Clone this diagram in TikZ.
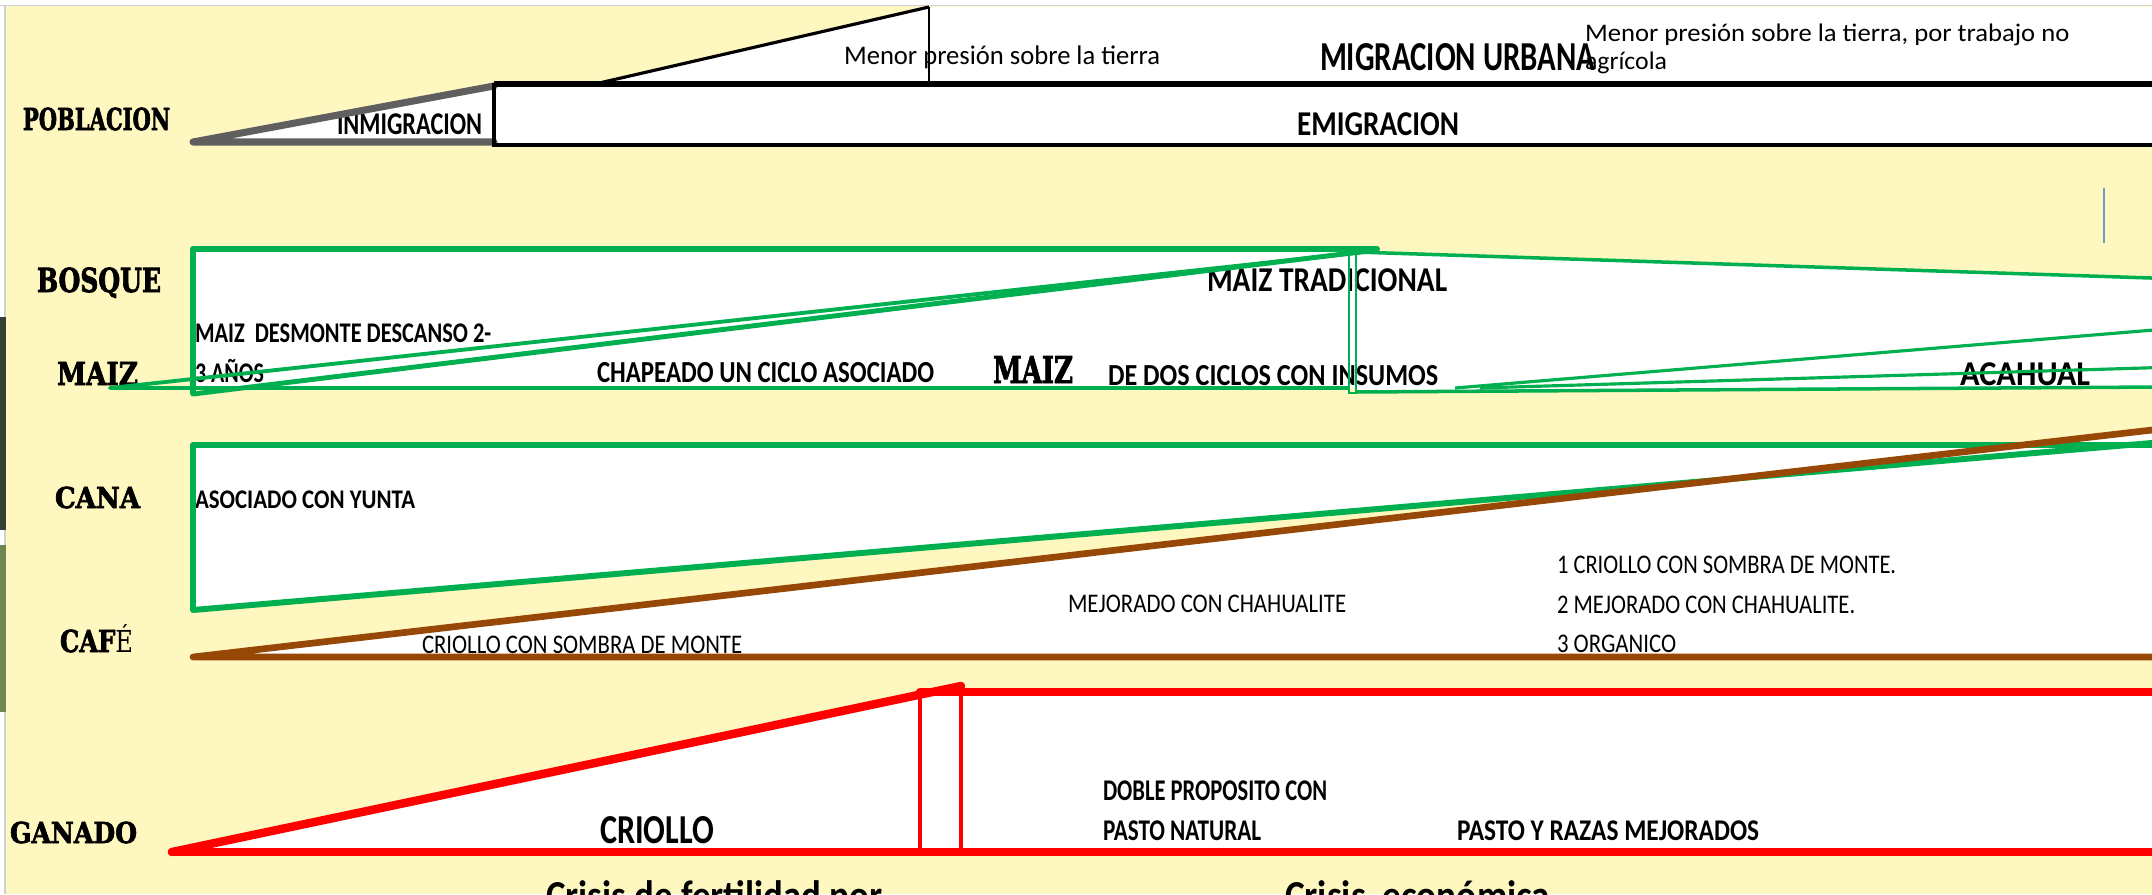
\documentclass[tikz,border=0pt]{standalone}
\usepackage{fontspec}
\usepackage{graphicx}
\setmainfont{Carlito}
\newfontfamily\labfont{DejaVu Serif}[BoldFeatures={FakeBold=2.5}]
\definecolor{bgyellow}{RGB}{255,247,192}
\definecolor{xgreen}{RGB}{0,176,80}
\definecolor{xbrown}{RGB}{151,72,6}
\definecolor{xred}{RGB}{255,0,0}
\definecolor{xgray}{RGB}{95,95,95}
\definecolor{framegray}{RGB}{205,208,214}
\definecolor{cursorblue}{RGB}{120,150,200}
\definecolor{photodark}{RGB}{52,64,52}
\definecolor{photogreen}{RGB}{110,135,80}
\newcommand{\fitw}[2]{\resizebox{#1}{\height}{#2}}
\begin{document}
\begin{tikzpicture}[x=0.01cm,y=-0.01cm,
  txt/.style={inner sep=0pt, outer sep=0pt, anchor=base west},
  ser/.style={txt, font=\labfont\bfseries\fontsize{#1}{#1}\selectfont},
  bsans/.style={txt, font=\bfseries\fontsize{#1}{#1}\selectfont},
  rsans/.style={txt, font=\fontsize{#1}{#1}\selectfont},
  gthick/.style={draw=xgreen, line width=1.7pt, line join=round, line cap=round},
  gmid/.style={draw=xgreen, line width=1.1pt, line cap=round},
  gthin/.style={draw=xgreen, line width=0.6pt},
  brownline/.style={draw=xbrown, line width=1.9pt, line cap=round, line join=round},
  redthick/.style={draw=xred, line width=2.4pt, line cap=round},
  redthin/.style={draw=xred, line width=1pt},
  blackline/.style={draw=black, line width=1.1pt}]
\useasboundingbox (0,0) rectangle (2152,894);
\clip (0,0) rectangle (2152,894);
% background
\fill[white] (0,0) rectangle (2152,894);
\fill[bgyellow] (5,6) rectangle (2152,894);
\draw[framegray, line width=0.5pt] (0,5.5) -- (2152,5.5);
\draw[framegray, line width=0.5pt] (5,5.5) -- (5,894);
\fill[photodark] (0,317) rectangle (6,530);
\fill[photogreen] (0,545) rectangle (6,712);
% white areas
\fill[white] (595,84) -- (929,7) -- (2160,7) -- (2160,84) -- cycle;
\fill[white] (193,142) -- (494,86) -- (494,142) -- cycle;
\fill[white] (494,85) rectangle (2160,145);
\fill[white] (193,249) rectangle (1356,388);
\fill[white] (1356,252) -- (2160,278.3) -- (2160,388) -- (1356,392) -- cycle;
\fill[white] (193,445) -- (2160,445) -- (2160,442.3) -- (193,610) -- cycle;
\fill[white] (193,657) -- (2160,429.1) -- (2160,657) -- cycle;
\fill[white] (172,852) -- (961,686) -- (961,692) -- (2160,692) -- (2160,852) -- cycle;
% row labels
\node[ser=8.6pt] (pob) at (23,130) {\fitw{1.47cm}{POBLACION}};
\node[ser=9.4pt] (bos) at (37,292) {\fitw{1.24cm}{BOSQUE}};
\node[ser=9.0pt] (mai) at (57,385) {\fitw{0.81cm}{MAIZ}};
\node[ser=8.2pt] (can) at (55,508) {\fitw{0.85cm}{CANA}};
\node[ser=8.6pt] (caf) at (60,652) {\fitw{0.73cm}{CAF{\mdseries É}}};
\node[ser=8.2pt] (gan) at (10,843) {\fitw{1.27cm}{GANADO}};
\node[ser=10.5pt] (mai2) at (993,383) {\fitw{0.80cm}{MAIZ}};
% poblacion texts
\node[bsans=9.0pt] (inm) at (337,135) {\fitw{1.45cm}{INMIGRACION}};
\node[bsans=9.9pt] (emi) at (1297,135) {\fitw{1.62cm}{EMIGRACION}};
\node[bsans=11.7pt] (mur) at (1320,71) {\fitw{2.75cm}{MIGRACION URBANA}};
\node[rsans=7.65pt] (men1) at (844,65) {\fitw{3.16cm}{Menor presión sobre la tierra}};
\node[rsans=7.2pt] (men2) at (1585,42) {\fitw{4.84cm}{Menor presión sobre la tierra, por trabajo no}};
\node[rsans=7.2pt] (men3) at (1585,70) {\fitw{0.82cm}{agrícola}};
% maiz texts
\node[bsans=9.9pt] (mtr) at (1207,291) {\fitw{2.40cm}{MAIZ TRADICIONAL}};
\node[bsans=8.1pt] (mde1) at (195,343) {\fitw{2.96cm}{MAIZ\ \ DESMONTE DESCANSO 2-}};
\node[bsans=8.1pt] (mde2) at (195,382) {\fitw{0.69cm}{3 AÑOS}};
\node[bsans=8.7pt] (cha) at (597,382) {\fitw{3.37cm}{CHAPEADO UN CICLO ASOCIADO}};
\node[bsans=8.7pt] (dos) at (1108,385) {\fitw{3.30cm}{DE DOS CICLOS CON INSUMOS}};
\node[bsans=9.9pt] (aca) at (1960,385) {\fitw{1.30cm}{ACAHUAL}};
% cana / cafe texts
\node[bsans=7.65pt] (yun) at (195,508) {\fitw{2.20cm}{ASOCIADO CON YUNTA}};
\node[rsans=7.65pt] (csm) at (422,653) {\fitw{3.20cm}{CRIOLLO CON SOMBRA DE MONTE}};
\node[rsans=7.65pt] (mej) at (1068,612) {\fitw{2.78cm}{MEJORADO CON CHAHUALITE}};
\node[rsans=7.65pt] (l1) at (1557,573) {\fitw{3.39cm}{1 CRIOLLO CON SOMBRA DE MONTE.}};
\node[rsans=7.65pt] (l2) at (1557,613) {\fitw{2.98cm}{2 MEJORADO CON CHAHUALITE.}};
\node[rsans=7.65pt] (l3) at (1557,652) {\fitw{1.19cm}{3 ORGANICO}};
% ganado texts
\node[bsans=11.7pt] (cri) at (600,843) {\fitw{1.14cm}{CRIOLLO}};
\node[bsans=8.55pt] (dob1) at (1103,800) {\fitw{2.24cm}{DOBLE PROPOSITO CON}};
\node[bsans=8.55pt] (dob2) at (1103,840) {\fitw{1.58cm}{PASTO NATURAL}};
\node[bsans=8.55pt] (pas) at (1457,840) {\fitw{3.02cm}{PASTO Y RAZAS MEJORADOS}};
% bottom texts (cut by the frame, as in the source)
\node[bsans=11.7pt] (cr1) at (546,909) {\fitw{3.36cm}{Crisis de fertilidad por}};
\node[bsans=11.7pt] (cr2) at (1285,909) {\fitw{2.65cm}{Crisis\ \ económica}};
% poblacion strokes
\draw[black, line width=0.9pt] (595,84) -- (929,7);
\draw[black, line width=0.5pt] (929,7) -- (929,84);
\draw[xgray, line width=2pt, line cap=round, line join=round] (494,86) -- (193,142) -- (494,142);
\draw[blackline] (2160,85) -- (494,85) -- (494,145) -- (2160,145);
\draw[black, line width=1.8pt] (494,84) -- (2160,84);
\draw[cursorblue, line width=0.4pt] (2104,188) -- (2104,243);
% bosque / maiz strokes
\draw[gthick] (193,393) -- (193,249) -- (1377,249);
\draw[draw=xgreen, line width=1.4pt, line cap=round] (193,394) -- (1368,251);
\draw[gmid] (110,388) -- (1365,252);
\draw[draw=xgreen, line width=1pt] (110,388) -- (1349,388);
\draw[gthin] (1349,252) rectangle (1356,393);
\draw[draw=xgreen, line width=1pt] (1356,252) -- (2160,278.3);
\draw[draw=xgreen, line width=1pt] (1356,392) -- (2160,387);
\draw[draw=xgreen, line width=0.9pt] (1455,388) -- (2160,329.5);
\draw[draw=xgreen, line width=0.9pt] (1480,388) -- (2160,367.5);
% cana strokes
\draw[gthick] (2160,445) -- (193,445) -- (193,610) -- (2160,442.3);
% cafe strokes
\draw[brownline] (2160,429.1) -- (193,657) -- (2160,657);
% ganado strokes
\draw[redthick] (172,852) -- (961,686);
\draw[redthick] (920,692) -- (2160,692);
\draw[redthick] (172,852) -- (2160,852);
\draw[redthin] (920,692) -- (920,852);
\draw[redthin] (961,686) -- (961,852);
\end{tikzpicture}
\end{document}
